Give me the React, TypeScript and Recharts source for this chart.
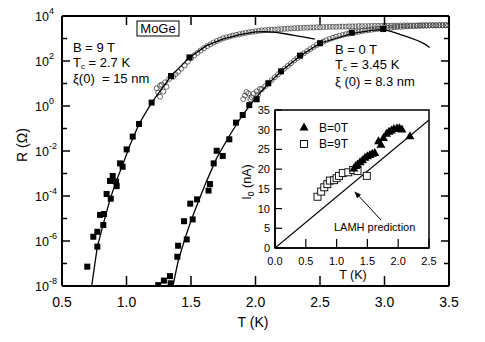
import React from 'react';
import { ComposedChart, Scatter, XAxis, YAxis, CartesianGrid, ReferenceArea } from 'recharts';

const FONT = '"Liberation Sans", Arial, Helvetica, sans-serif';

// ---------- main panel: R(T), values as [T (K), log10 R (Ω)] ----------
const squares9T: [number, number][] = [
  [0.696, -7.14], [0.743, -5.81], [0.774, -5.59], [0.774, -6.25], [0.795, -4.84], [0.82, -5.29],
  [0.826, -4.8], [0.846, -3.91], [0.872, -3.33], [0.878, -4.12], [0.893, -3.11], [0.919, -3.36],
  [0.924, -3.56], [0.95, -2.55], [0.97, -2.7], [1.001, -1.93], [1.048, -1.36], [1.097, -0.8],
  [1.195, 0.15], [1.345, 1.33], [1.488, 2.16],
];

const squares0T: [number, number][] = [
  [1.246, -7.96], [1.29, -7.76], [1.337, -7.56], [1.342, -7.88], [1.394, -6.7], [1.4, -6.21],
  [1.446, -5.12], [1.467, -5.93], [1.494, -4.34], [1.513, -5.04], [1.547, -4.15], [1.636, -3.76],
  [1.647, -3.47], [1.676, -2.55], [1.699, -1.99], [1.746, -2.22], [1.797, -1.48], [1.849, -0.74],
  [1.901, -0.4], [1.952, 0.04], [2.009, 0.3], [2.099, 1.01], [2.198, 1.54], [2.345, 2.24],
  [2.5, 2.79], [2.746, 3.26], [2.99, 3.42],
];

const fit9T: [number, number][] = [
  [0.73, -8.0], [0.774, -6.25], [0.82, -5.25], [0.872, -4.15], [0.919, -3.36], [0.97, -2.62],
  [1.027, -1.73], [1.097, -0.8], [1.195, 0.15], [1.345, 1.33], [1.488, 2.16], [1.62, 2.68],
  [1.75, 2.98], [1.88, 3.17], [2.0, 3.29], [2.08, 3.3], [2.16, 3.27], [2.24, 3.2], [2.32, 3.12],
  [2.4, 3.04], [2.46, 2.97],
];

const fit0T: [number, number][] = [
  [1.36, -8.0], [1.4, -6.9], [1.45, -5.95], [1.5, -5.1], [1.56, -4.2], [1.62, -3.35], [1.7, -2.3],
  [1.8, -1.3], [1.9, -0.4], [2.0, 0.35], [2.1, 1.0], [2.2, 1.54], [2.35, 2.24], [2.5, 2.79],
  [2.75, 3.23], [2.9, 3.36], [2.99, 3.4], [3.05, 3.32], [3.12, 3.18], [3.19, 3.05], [3.26, 2.9],
  [3.31, 2.76], [3.35, 2.6],
];

const circles9T: [number, number][] = [
  [1.234, 0.79], [1.246, 0.6], [1.26, 0.41], [1.26, 0.9], [1.273, 0.95], [1.285, 0.64], [1.298, 1.05],
  [1.31, 0.85], [1.33, 1.2], [1.363, 1.3], [1.38, 1.42], [1.4, 1.52],
  [1.425, 1.66], [1.45, 1.8], [1.475, 1.97], [1.5, 2.13], [1.525, 2.25], [1.55, 2.36], [1.575, 2.47],
  [1.6, 2.57], [1.625, 2.66], [1.65, 2.74], [1.675, 2.82], [1.7, 2.89], [1.725, 2.95], [1.75, 3.01],
  [1.775, 3.05], [1.8, 3.09], [1.825, 3.13], [1.85, 3.16], [1.875, 3.19], [1.9, 3.22], [1.925, 3.25],
  [1.95, 3.28], [1.975, 3.3], [2.0, 3.32], [2.025, 3.34], [2.05, 3.36], [2.075, 3.37], [2.1, 3.38],
  [2.125, 3.39], [2.15, 3.4], [2.175, 3.41], [2.2, 3.42], [2.225, 3.43], [2.25, 3.44], [2.275, 3.45],
  [2.3, 3.46], [2.325, 3.46], [2.35, 3.47], [2.375, 3.48], [2.4, 3.48], [2.425, 3.49], [2.45, 3.49],
  [2.475, 3.5], [2.5, 3.5], [2.525, 3.51], [2.55, 3.51], [2.575, 3.52], [2.6, 3.52], [2.625, 3.52],
  [2.65, 3.53], [2.675, 3.53], [2.7, 3.53], [2.725, 3.54], [2.75, 3.54], [2.775, 3.54], [2.8, 3.55],
  [2.825, 3.55], [2.85, 3.55], [2.875, 3.55], [2.9, 3.56], [2.925, 3.56], [2.95, 3.56], [2.975, 3.56],
  [3.0, 3.57], [3.025, 3.57], [3.05, 3.57], [3.075, 3.57], [3.1, 3.57], [3.125, 3.58], [3.15, 3.58],
  [3.175, 3.58], [3.2, 3.58], [3.225, 3.58], [3.25, 3.58], [3.275, 3.59], [3.3, 3.59], [3.325, 3.59],
  [3.35, 3.59], [3.375, 3.59], [3.4, 3.59], [3.425, 3.59], [3.45, 3.59], [3.475, 3.59],
];

const circles0T: [number, number][] = [
  [1.905, 0.31], [1.918, 0.46], [1.93, 0.62], [1.944, 0.56], [1.96, 0.3], [1.97, 0.39], [1.985, 0.55],
  [2.009, 0.65], [2.02, 0.5], [2.035, 0.76],
  [2.05, 0.75], [2.075, 0.88], [2.1, 1.01], [2.125, 1.15], [2.15, 1.28], [2.175, 1.41], [2.2, 1.54],
  [2.225, 1.66], [2.25, 1.78], [2.275, 1.9], [2.3, 2.02], [2.325, 2.13], [2.35, 2.24], [2.375, 2.34],
  [2.4, 2.44], [2.425, 2.53], [2.45, 2.62], [2.475, 2.71], [2.5, 2.79], [2.525, 2.86], [2.55, 2.92],
  [2.575, 2.98], [2.6, 3.03], [2.625, 3.08], [2.65, 3.12], [2.675, 3.16], [2.7, 3.19], [2.725, 3.22],
  [2.75, 3.25], [2.775, 3.28], [2.8, 3.3], [2.825, 3.33], [2.85, 3.35], [2.875, 3.37], [2.9, 3.39],
  [2.925, 3.41], [2.95, 3.43], [2.975, 3.44], [3.0, 3.46], [3.025, 3.47], [3.05, 3.48], [3.075, 3.5],
  [3.1, 3.51], [3.125, 3.52], [3.15, 3.53], [3.175, 3.54], [3.2, 3.55], [3.225, 3.55], [3.25, 3.56],
  [3.275, 3.56], [3.3, 3.57], [3.325, 3.57], [3.35, 3.58], [3.375, 3.58], [3.4, 3.58], [3.425, 3.59],
  [3.45, 3.59], [3.475, 3.59], [3.495, 3.58],
];

const mainXTicks = [0.5, 1.0, 1.5, 2.0, 2.5, 3.0, 3.5];
const mainYExponents = [-8, -7, -6, -5, -4, -3, -2, -1, 0, 1, 2, 3, 4];

// ---------- inset: I0 (nA) vs T (K) ----------
const inset0T: [number, number][] = [
  [1.28, 20.3], [1.31, 20.9], [1.34, 21.3], [1.38, 21.9], [1.42, 22.4], [1.46, 23.0], [1.5, 23.4],
  [1.54, 23.7], [1.58, 24.0], [1.62, 24.2], [1.68, 27.2], [1.72, 26.3], [1.76, 28.0], [1.81, 29.1],
  [1.85, 29.6], [1.89, 29.9], [1.93, 30.3], [1.98, 30.5], [2.02, 30.5], [2.06, 30.2], [2.19, 28.5],
];
const inset9T: [number, number][] = [
  [0.69, 13.0], [0.75, 14.3], [0.8, 15.4], [0.85, 16.2], [0.89, 17.1], [0.96, 17.2], [1.0, 17.7],
  [1.04, 18.3], [1.1, 19.0], [1.19, 19.2], [1.27, 19.8], [1.34, 19.5], [1.49, 18.3],
];
const lamhLine: [number, number][] = [[0, 0], [2.5, 32.5]];
const insetXTicks = [0, 0.5, 1.0, 1.5, 2.0, 2.5];
const insetYTicks = [0, 5, 10, 15, 20, 25, 30, 35];

// ---------- helpers ----------
const toLog = (arr: [number, number][]) => arr.map(([t, l]) => ({ x: t, y: Math.pow(10, l) }));
const toLin = (arr: [number, number][]) => arr.map(([t, v]) => ({ x: t, y: v }));
const yTickValues = mainYExponents.map((e) => Math.pow(10, e));

const FilledSquare = (p: any) => <rect x={p.cx - 3} y={p.cy - 3} width={6} height={6} fill="#000" />;
const OpenCircle = (p: any) => <circle cx={p.cx} cy={p.cy} r={2.5} fill="none" stroke="#444" strokeWidth={0.8} />;
const NoShape = () => <g />;
const Triangle = (p: any) => (
  <path d={`M${p.cx},${p.cy - 4.5} L${p.cx + 4.5},${p.cy + 3.5} L${p.cx - 4.5},${p.cy + 3.5} Z`} fill="#000" />
);
const OpenSquare = (p: any) => (
  <rect x={p.cx - 3.5} y={p.cy - 3.5} width={7} height={7} fill="#fff" stroke="#000" strokeWidth={0.9} />
);

const expOf = (v: number) => Math.round(Math.log10(v));

const LeftTick = (props: any) => {
  const { x, y, payload } = props;
  const e = expOf(payload.value);
  const major = e % 2 === 0;
  return (
    <g>
      <line x1={x} y1={y} x2={x + (major ? 8 : 5)} y2={y} stroke="#000" strokeWidth={1.5} />
      {major && (
        <text x={x - 27} y={y + 4.5} fontSize={12.5} fontFamily={FONT} fill="#000" textAnchor="start">
          10<tspan dy={-6.5} fontSize={9}>{String(e)}</tspan>
        </text>
      )}
    </g>
  );
};
const RightTick = (props: any) => {
  const { x, y, payload } = props;
  const e = expOf(payload.value);
  const major = e % 2 === 0;
  return <line x1={x} y1={y} x2={x - (major ? 8 : 5)} y2={y} stroke="#000" strokeWidth={1.5} />;
};
const BottomTick = (props: any) => {
  const { x, y, payload } = props;
  return (
    <g>
      <line x1={x} y1={y} x2={x} y2={y - 10} stroke="#000" strokeWidth={1.5} />
      <text x={x} y={y + 21} fontSize={14} fontFamily={FONT} fill="#000" textAnchor="middle">
        {Number(payload.value).toFixed(1)}
      </text>
    </g>
  );
};
const TopTick = (props: any) => {
  const { x, y } = props;
  return <line x1={x} y1={y} x2={x} y2={y + 9} stroke="#000" strokeWidth={1.5} />;
};
const InsetLeftTick = (props: any) => {
  const { x, y, payload } = props;
  return (
    <g>
      <line x1={x} y1={y} x2={x + 7} y2={y} stroke="#000" strokeWidth={1.2} />
      <text x={x - 5} y={y + 4} fontSize={11} fontFamily={FONT} fill="#000" textAnchor="end">
        {String(payload.value)}
      </text>
    </g>
  );
};
const InsetBottomTick = (props: any) => {
  const { x, y, payload } = props;
  return (
    <g>
      <line x1={x} y1={y} x2={x} y2={y - 9} stroke="#000" strokeWidth={1.2} />
      <text x={x} y={y + 17} fontSize={11} fontFamily={FONT} fill="#000" textAnchor="middle">
        {Number(payload.value).toFixed(1)}
      </text>
    </g>
  );
};

const axisLine = { stroke: '#000', strokeWidth: 2 };
const insetAxisLine = { stroke: '#000', strokeWidth: 1.5 };

export default function App() {
  const txt = { fontFamily: FONT, fill: '#000' } as any;
  return (
    <div style={{ position: 'absolute', left: 0, top: 0, width: 485, height: 342, background: '#fff', fontFamily: FONT }}>
      <div style={{ position: 'absolute', left: 0, top: 0 }}>
        <ComposedChart width={485} height={342} margin={{ top: 0, right: 0, bottom: 0, left: 0 }}>
          <XAxis xAxisId="b" type="number" dataKey="x" domain={[0.5, 3.5]} ticks={mainXTicks} height={56}
            tickSize={0} tickMargin={0} tickLine={false} axisLine={axisLine} tick={BottomTick} allowDataOverflow interval={0} />
          <XAxis xAxisId="t" orientation="top" type="number" dataKey="x" domain={[0.5, 3.5]} ticks={mainXTicks} height={16}
            tickSize={0} tickMargin={0} tickLine={false} axisLine={axisLine} tick={TopTick} allowDataOverflow interval={0} />
          <YAxis yAxisId="l" type="number" dataKey="y" scale="log" domain={[1e-8, 1e4]} ticks={yTickValues} width={62}
            tickSize={0} tickMargin={0} tickLine={false} axisLine={axisLine} tick={LeftTick} allowDataOverflow interval={0} />
          <YAxis yAxisId="r" orientation="right" type="number" dataKey="y" scale="log" domain={[1e-8, 1e4]} ticks={yTickValues} width={36}
            tickSize={0} tickMargin={0} tickLine={false} axisLine={axisLine} tick={RightTick} allowDataOverflow interval={0} />
          <Scatter xAxisId="b" yAxisId="l" data={toLog(circles9T)} shape={OpenCircle} isAnimationActive={false} />
          <Scatter xAxisId="b" yAxisId="l" data={toLog(circles0T)} shape={OpenCircle} isAnimationActive={false} />
          <Scatter xAxisId="b" yAxisId="l" data={toLog(fit9T)} shape={NoShape} line={{ stroke: '#000', strokeWidth: 1.3 }} isAnimationActive={false} />
          <Scatter xAxisId="b" yAxisId="l" data={toLog(fit0T)} shape={NoShape} line={{ stroke: '#000', strokeWidth: 1.3 }} isAnimationActive={false} />
          <Scatter xAxisId="b" yAxisId="l" data={toLog(squares9T)} shape={FilledSquare} isAnimationActive={false} />
          <Scatter xAxisId="b" yAxisId="l" data={toLog(squares0T)} shape={FilledSquare} isAnimationActive={false} />
          <Scatter xAxisId="t" yAxisId="r" data={[]} shape={NoShape} isAnimationActive={false} />
        </ComposedChart>
      </div>

      <div style={{ position: 'absolute', left: 220, top: 100 }}>
        <ComposedChart width={230} height={190} margin={{ top: 10, right: 21, bottom: 0, left: 0 }}>
          <CartesianGrid xAxisId="ix" yAxisId="iy" horizontal={false} vertical={false} fill="#fff" stroke="none" />
          <XAxis xAxisId="ix" type="number" dataKey="x" domain={[0, 2.5]} ticks={insetXTicks} height={42}
            tickSize={0} tickMargin={0} tickLine={false} axisLine={insetAxisLine} tick={InsetBottomTick} allowDataOverflow interval={0} />
          <YAxis yAxisId="iy" type="number" dataKey="y" domain={[0, 35]} ticks={insetYTicks} width={55}
            tickSize={0} tickMargin={0} tickLine={false} axisLine={insetAxisLine} tick={InsetLeftTick} allowDataOverflow interval={0} />
          <ReferenceArea xAxisId="ix" yAxisId="iy" x1={0} x2={2.5} y1={0} y2={35} fill="none" stroke="#000" strokeWidth={1.5} ifOverflow="visible" />
          <Scatter xAxisId="ix" yAxisId="iy" data={toLin(lamhLine)} shape={NoShape} line={{ stroke: '#000', strokeWidth: 1.2 }} isAnimationActive={false} />
          <Scatter xAxisId="ix" yAxisId="iy" data={toLin(inset9T)} shape={OpenSquare} isAnimationActive={false} />
          <Scatter xAxisId="ix" yAxisId="iy" data={toLin(inset0T)} shape={Triangle} isAnimationActive={false} />
        </ComposedChart>
      </div>

      <svg width={485} height={342} style={{ position: 'absolute', left: 0, top: 0, pointerEvents: 'none' }}>
        <defs>
          <marker id="ah" viewBox="0 0 10 10" refX="9" refY="5" markerWidth="7" markerHeight="7" orient="auto">
            <path d="M0,1 L10,5 L0,9 Z" fill="#000" />
          </marker>
        </defs>
        {/* main axis titles */}
        <text x={253} y={327} fontSize={14} textAnchor="middle" {...txt}>T (K)</text>
        <text x={0} y={0} fontSize={14} textAnchor="middle" transform="translate(27,145) rotate(-90)" {...txt}>R (Ω)</text>
        {/* MoGe box */}
        <rect x={137} y={21} width={42} height={15} fill="#fff" stroke="#000" strokeWidth={1} />
        <text x={158} y={33} fontSize={13} textAnchor="middle" {...txt}>MoGe</text>
        {/* 9 T annotation */}
        <text x={73} y={52} fontSize={13} {...txt}>B = 9 T</text>
        <text x={73} y={66.5} fontSize={13} {...txt}>T<tspan dy={2.5} fontSize={8}>c</tspan><tspan dy={-2.5}> = 2.7 K</tspan></text>
        <text x={73} y={82.5} fontSize={13} style={{ whiteSpace: 'pre' }} {...txt}>ξ(0)  = 15 nm</text>
        {/* 0 T annotation */}
        <text x={335} y={54} fontSize={13} {...txt}>B = 0 T</text>
        <text x={335} y={68.5} fontSize={13} {...txt}>T<tspan dy={2.5} fontSize={8}>c</tspan><tspan dy={-2.5}> = 3.45 K</tspan></text>
        <text x={335} y={86} fontSize={13} {...txt}>ξ (0) = 8.3 nm</text>
        {/* inset titles */}
        <text x={353} y={279} fontSize={12.5} textAnchor="middle" {...txt}>T (K)</text>
        <text x={0} y={0} fontSize={12.5} textAnchor="middle" transform="translate(251,182) rotate(-90)" {...txt}>
          I<tspan dy={3} fontSize={8.5}>0</tspan><tspan dy={-3}> (nA)</tspan>
        </text>
        {/* inset legend */}
        <path d="M304,122.5 L308.5,130.5 L299.5,130.5 Z" fill="#000" />
        <text x={319} y={132} fontSize={12} {...txt}>B=0T</text>
        <rect x={300.5} y={140.5} width={7} height={7} fill="#fff" stroke="#000" strokeWidth={0.9} />
        <text x={319} y={148} fontSize={12} {...txt}>B=9T</text>
        {/* LAMH annotation */}
        <text x={334} y={231} fontSize={11} {...txt}>LAMH prediction</text>
        <line x1={381} y1={220} x2={355} y2={192} stroke="#000" strokeWidth={1} markerEnd="url(#ah)" />
      </svg>
    </div>
  );
}
